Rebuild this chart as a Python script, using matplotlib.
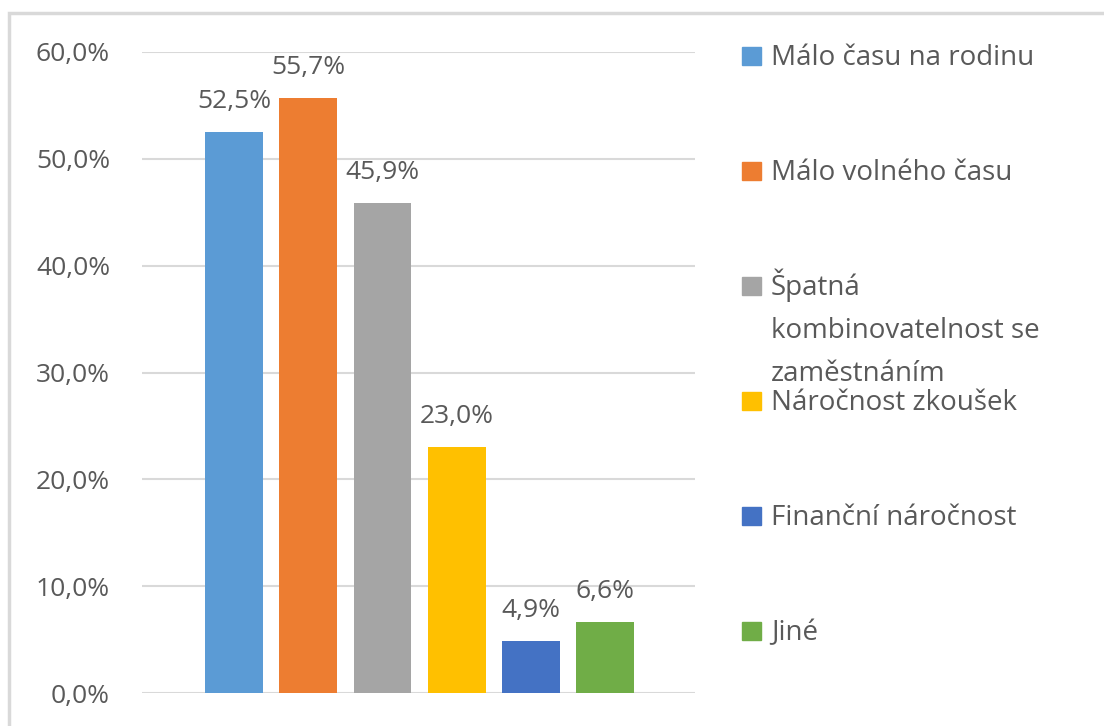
import matplotlib.pyplot as plt
from matplotlib.patches import Rectangle
from matplotlib.ticker import FuncFormatter

categories = ["Málo času na rodinu", "Málo volného času",
              "Špatná\nkombinovatelnost se\nzaměstnáním",
              "Náročnost zkoušek", "Finanční náročnost", "Jiné"]
values = [52.5, 55.7, 45.9, 23.0, 4.9, 6.6]
colors = ["#5b9bd5", "#ed7d31", "#a5a5a5", "#ffc000", "#4472c4", "#70ad47"]

plt.rcParams['font.family'] = ['Open Sans', 'DejaVu Sans']
txt = "#595959"
fs = 19
W, H = 1104, 726

fig = plt.figure(figsize=(W / 100, H / 100), dpi=100)

def fx(px):
    return px / W

def fy(py):
    return 1 - py / H

# outer chart frame
fig.patches.append(Rectangle((fx(9), fy(H + 20)), fx(W + 20), (H + 7) / H,
                             transform=fig.transFigure, fill=False,
                             edgecolor="#d9d9d9", linewidth=2.5))

ax = fig.add_axes([fx(142), fy(693), fx(695 - 142), (693 - 52) / H])
x = range(len(values))
bars = ax.bar(x, values, width=0.78, color=colors, zorder=3)
for b, v in zip(bars, values):
    ax.annotate(f"{v:.1f}%".replace(".", ","), (b.get_x() + b.get_width() / 2, v),
                xytext=(0, 13), textcoords="offset points", ha="center", va="bottom",
                fontsize=fs, color=txt)

ax.set_ylim(0, 60)
ax.set_xlim(-1.24, 6.21)
ax.set_yticks(range(0, 61, 10))
ax.yaxis.set_major_formatter(FuncFormatter(lambda v, p: f"{v:.1f}%".replace(".", ",")))
ax.tick_params(axis="y", length=0, pad=23, labelsize=fs, labelcolor=txt)
ax.set_xticks([])
ax.grid(axis="y", color="#d9d9d9", linewidth=1.5, zorder=0)
for s in ax.spines.values():
    s.set_visible(False)

# legend on the right
for i, (lab, c) in enumerate(zip(categories, colors)):
    base = 65 + i * 115
    fig.patches.append(Rectangle((fx(742), fy(base)), fx(19), 18 / H,
                                 transform=fig.transFigure, color=c))
    extra = lab.count("\n") * 43  # baseline alignment uses the last line
    fig.text(fx(771), fy(base + extra), lab, ha="left", va="baseline",
             fontsize=20, color=txt, linespacing=1.72)

fig.savefig("out.png", dpi=100)
